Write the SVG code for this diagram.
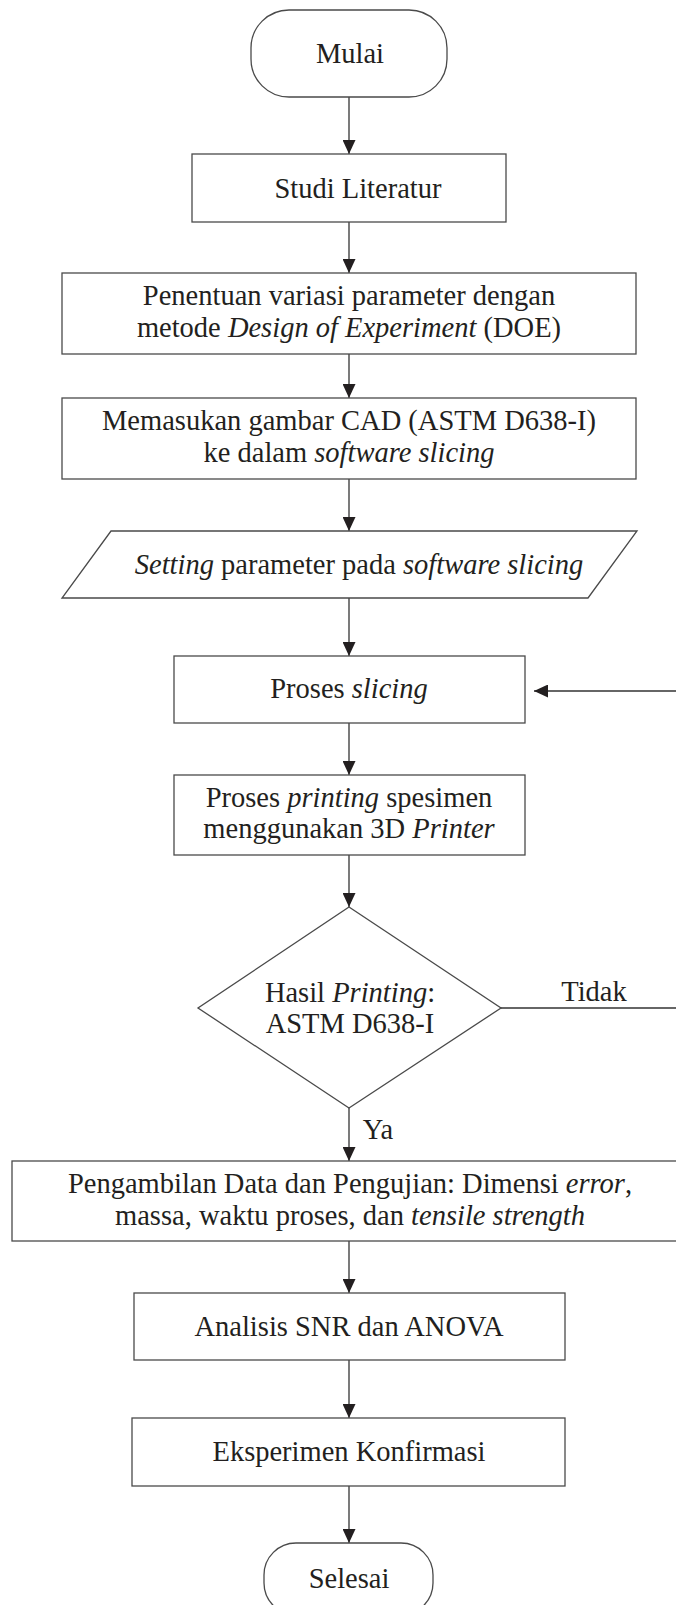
<svg xmlns="http://www.w3.org/2000/svg" width="676" height="1605" viewBox="0 0 676 1605">
<style>
.s{fill:#fff;stroke:#4a4a4a;stroke-width:1.3}
.t{font-family:"Liberation Serif","Times New Roman",serif;font-size:28.5px;fill:#231f20;text-anchor:middle}
.i{font-style:italic}
.c{fill:none;stroke:#333;stroke-width:1.3}
</style>
<defs>
<marker id="ah" viewBox="0 0 14 13" refX="14" refY="6.5" markerWidth="14" markerHeight="13" orient="auto" markerUnits="userSpaceOnUse">
<path d="M0,0 L14,6.5 L0,13 z" fill="#231f20"/>
</marker>
</defs>
<rect width="676" height="1605" fill="#fff"/>
<g id="connectors">
<line class="c" x1="349" y1="97" x2="349" y2="154" marker-end="url(#ah)"/>
<line class="c" x1="349" y1="222" x2="349" y2="273" marker-end="url(#ah)"/>
<line class="c" x1="349" y1="354" x2="349" y2="398" marker-end="url(#ah)"/>
<line class="c" x1="349" y1="479" x2="349" y2="531" marker-end="url(#ah)"/>
<line class="c" x1="349" y1="598" x2="349" y2="656" marker-end="url(#ah)"/>
<line class="c" x1="349" y1="723" x2="349" y2="775" marker-end="url(#ah)"/>
<line class="c" x1="349" y1="855" x2="349" y2="907" marker-end="url(#ah)"/>
<line class="c" x1="349" y1="1108" x2="349" y2="1161" marker-end="url(#ah)"/>
<line class="c" x1="349" y1="1241" x2="349" y2="1293" marker-end="url(#ah)"/>
<line class="c" x1="349" y1="1360" x2="349" y2="1418" marker-end="url(#ah)"/>
<line class="c" x1="349" y1="1486" x2="349" y2="1543" marker-end="url(#ah)"/>
<line class="c" x1="501" y1="1008" x2="680" y2="1008"/>
<line class="c" x1="680" y1="691" x2="534" y2="691" marker-end="url(#ah)"/>
<text class="t" x="594" y="1001">Tidak</text>
<text class="t" x="378" y="1139">Ya</text>
</g>
<g id="mulai">
<rect class="s" x="251" y="10" width="196" height="87" rx="38" ry="38"/>
<text class="t" x="350" y="63">Mulai</text>
</g>
<g id="studi">
<rect class="s" x="192" y="154" width="314" height="68"/>
<text class="t" x="358" y="198">Studi Literatur</text>
</g>
<g id="penentuan">
<rect class="s" x="62" y="273" width="574" height="81"/>
<text class="t" x="349" y="305">Penentuan variasi parameter dengan</text>
<text class="t" x="349" y="337">metode <tspan class="i">Design of Experiment</tspan> (DOE)</text>
</g>
<g id="memasukan">
<rect class="s" x="62" y="398" width="574" height="81"/>
<text class="t" x="349" y="430">Memasukan gambar CAD (ASTM D638-I)</text>
<text class="t" x="349" y="462">ke dalam <tspan class="i">software slicing</tspan></text>
</g>
<g id="setting">
<polygon class="s" points="111,531 637,531 588,598 62,598"/>
<text class="t" x="359" y="574"><tspan class="i">Setting</tspan> parameter pada <tspan class="i">software slicing</tspan></text>
</g>
<g id="slicing">
<rect class="s" x="174" y="656" width="351" height="67"/>
<text class="t" x="349" y="698">Proses <tspan class="i">slicing</tspan></text>
</g>
<g id="printing">
<rect class="s" x="174" y="775" width="351" height="80"/>
<text class="t" x="349" y="807">Proses <tspan class="i">printing</tspan> spesimen</text>
<text class="t" x="349" y="838">menggunakan 3D <tspan class="i">Printer</tspan></text>
</g>
<g id="keputusan">
<polygon class="s" points="349,907 501,1008 349,1108 198,1008"/>
<text class="t" x="350" y="1002">Hasil <tspan class="i">Printing</tspan>:</text>
<text class="t" x="350" y="1033">ASTM D638-I</text>
</g>
<g id="pengambilan">
<rect class="s" x="12" y="1161" width="680" height="80"/>
<text class="t" x="350" y="1193">Pengambilan Data dan Pengujian: Dimensi <tspan class="i">error</tspan>,</text>
<text class="t" x="350" y="1225">massa, waktu proses, dan <tspan class="i">tensile strength</tspan></text>
</g>
<g id="analisis">
<rect class="s" x="134" y="1293" width="431" height="67"/>
<text class="t" x="349" y="1336">Analisis SNR dan ANOVA</text>
</g>
<g id="eksperimen">
<rect class="s" x="132" y="1418" width="433" height="68"/>
<text class="t" x="349" y="1461">Eksperimen Konfirmasi</text>
</g>
<g id="selesai">
<rect class="s" x="264" y="1543" width="169" height="72" rx="32" ry="32"/>
<text class="t" x="349" y="1588">Selesai</text>
</g>
</svg>
